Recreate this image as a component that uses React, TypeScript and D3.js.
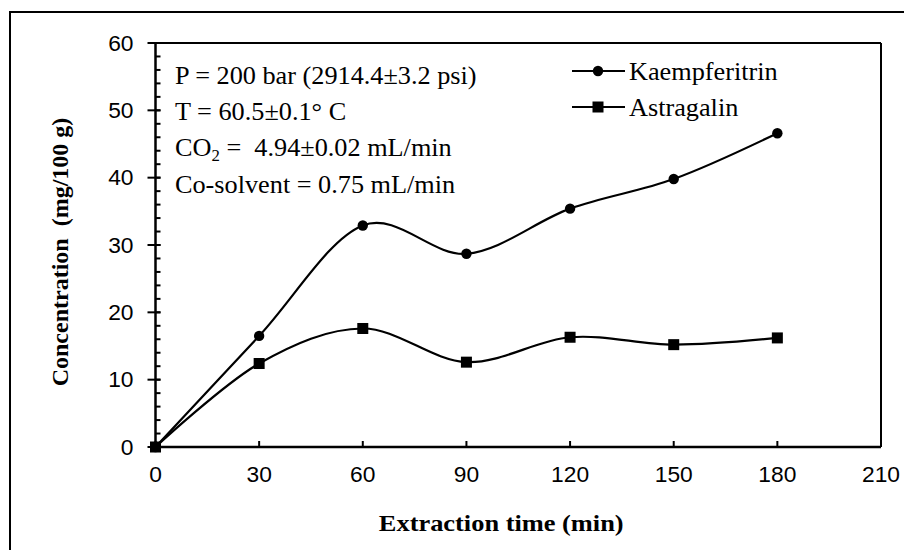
import React from 'react'
import * as d3 from 'd3'

const times = [0, 30, 60, 90, 120, 150, 180]
const kaempferitrin = [0, 16.5, 32.9, 28.7, 35.4, 39.8, 46.6]
const astragalin = [0, 12.4, 17.6, 12.6, 16.3, 15.2, 16.2]
const xTicks = [0, 30, 60, 90, 120, 150, 180, 210]
const yTicks = [0, 10, 20, 30, 40, 50, 60]
const yMinor = d3.range(0, 61, 2)
const notes = ['P = 200 bar (2914.4\u00b13.2 psi)', 'T = 60.5\u00b10.1\u00b0 C', 'CO2', 'Co-solvent = 0.75 mL/min']

const W = 904, H = 550
const left = 155.5, right = 881, top = 43, bottom = 447

function App() {
  const x = d3.scaleLinear().domain([0, 210]).range([left, right])
  const y = d3.scaleLinear().domain([0, 60]).range([bottom, top])

  const line = d3.line<number>()
    .x((d, i) => x(times[i]))
    .y(d => y(d))
    .curve(d3.curveCardinal.tension(0))

  const serif = '"Liberation Serif", "Times New Roman", serif'
  const sans = '"Liberation Sans", Arial, sans-serif'

  return (
    <svg width={W} height={H} style={{ position: 'absolute', left: 0, top: 0, background: '#fff' }}>
      <rect x={10} y={12} width={W + 20} height={H + 20} fill="#fff" stroke="#000" strokeWidth={2} />

      {/* plot frame */}
      <line x1={left} x2={right} y1={top} y2={top} stroke="#000" strokeWidth={2} />
      <line x1={right} x2={right} y1={top} y2={bottom} stroke="#000" strokeWidth={2} />

      {/* y minor ticks (inside) */}
      {yMinor.map(v => (
        <line key={'m' + v} x1={left} x2={left + 5} y1={y(v)} y2={y(v)} stroke="#000" strokeWidth={2} />
      ))}
      {/* y major ticks (cross) */}
      {yTicks.map(v => (
        <g key={'y' + v}>
          <line x1={left - 8} x2={left + 5} y1={y(v)} y2={y(v)} stroke="#000" strokeWidth={2} />
          <text transform={`translate(${left - 22},${y(v) + 7.5}) scale(1.06,1)`} textAnchor="end"
            fontFamily={sans} fontSize={21.5}>{v}</text>
        </g>
      ))}
      {/* x ticks inside */}
      {xTicks.map(v => (
        <g key={'x' + v}>
          <line x1={x(v)} x2={x(v)} y1={bottom} y2={bottom - 6} stroke="#000" strokeWidth={2} />
          <text transform={`translate(${x(v)},${bottom + 35}) scale(1.06,1)`} textAnchor="middle"
            fontFamily={sans} fontSize={21.5}>{v}</text>
        </g>
      ))}
      <line x1={left} x2={left} y1={top} y2={bottom} stroke="#000" strokeWidth={2.5} />
      <line x1={left} x2={right} y1={bottom} y2={bottom} stroke="#000" strokeWidth={2.5} />

      {/* series */}
      <path d={line(kaempferitrin) || ''} fill="none" stroke="#000" strokeWidth={2.2} />
      <path d={line(astragalin) || ''} fill="none" stroke="#000" strokeWidth={2.2} />
      {kaempferitrin.map((v, i) => (
        <circle key={'k' + i} cx={x(times[i])} cy={y(v)} r={5.2} fill="#000" />
      ))}
      {astragalin.map((v, i) => (
        <rect key={'a' + i} x={x(times[i]) - 5.5} y={y(v) - 5.5} width={11} height={11} fill="#000" />
      ))}

      {/* notes */}
      {notes.map((t, i) => (
        <text key={'n' + i} transform={`translate(175,${84 + i * 36.2}) scale(1.05,1)`}
          fontFamily={serif} fontSize={25}>
          {t === 'CO2'
            ? <>CO<tspan fontSize={16} dy={5}>2</tspan><tspan dy={-5}>{' =\u00a0 4.94\u00b10.02 mL/min'}</tspan></>
            : t}
        </text>
      ))}

      {/* legend */}
      {[{ name: 'Kaempferitrin', cy: 71, shape: 'c' }, { name: 'Astragalin', cy: 107, shape: 's' }].map(l => (
        <g key={l.name}>
          <line x1={572} x2={625} y1={l.cy} y2={l.cy} stroke="#000" strokeWidth={2.2} />
          {l.shape === 'c'
            ? <circle cx={598} cy={l.cy} r={5.2} fill="#000" />
            : <rect x={592.5} y={l.cy - 5.5} width={11} height={11} fill="#000" />}
          <text transform={`translate(629,${l.cy + 8.5}) scale(1.05,1)`} fontFamily={serif} fontSize={25}>{l.name}</text>
        </g>
      ))}

      {/* axis titles */}
      <text transform={`translate(${(left + right) / 2 - 17},531) scale(1.1,1)`} textAnchor="middle"
        fontFamily={serif} fontSize={24} fontWeight="bold">Extraction time (min)</text>
      <text transform={`translate(68,${252}) rotate(-90)`} textAnchor="middle"
        fontFamily={serif} fontSize={24} fontWeight="bold">{'Concentration\u00a0 (mg/100 g)'}</text>
    </svg>
  )
}

export default App
